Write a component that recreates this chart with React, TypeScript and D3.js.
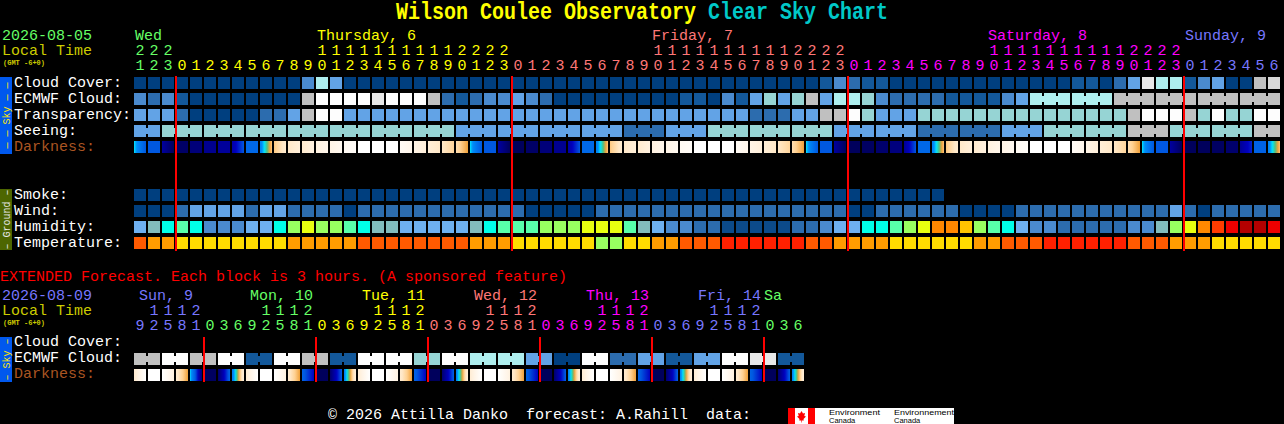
import * as d3 from 'd3';

const WIDTH = 1284;
const HEIGHT = 424;
const MONO = '"Liberation Mono", monospace';

// Hour labels along the top, one per block
const hours = [
  21, 22, 23,
  0, 1, 2, 3, 4, 5, 6, 7, 8, 9, 10, 11, 12, 13, 14, 15, 16, 17, 18, 19, 20, 21, 22, 23,
  0, 1, 2, 3, 4, 5, 6, 7, 8, 9, 10, 11, 12, 13, 14, 15, 16, 17, 18, 19, 20, 21, 22, 23,
  0, 1, 2, 3, 4, 5, 6, 7, 8, 9, 10, 11, 12, 13, 14, 15, 16, 17, 18, 19, 20, 21, 22, 23,
  0, 1, 2, 3, 4, 5, 6,
];
const extHours = [
  9, 12, 15, 18, 21,
  0, 3, 6, 9, 12, 15, 18, 21,
  0, 3, 6, 9, 12, 15, 18, 21,
  0, 3, 6, 9, 12, 15, 18, 21,
  0, 3, 6, 9, 12, 15, 18, 21,
  0, 3, 6, 9, 12, 15, 18, 21,
  0, 3, 6,
];

const days = ['Wed', 'Thursday, 6', 'Friday, 7', 'Saturday, 8', 'Sunday, 9'];
const dayTextX = [135, 317, 652, 988, 1185];
const extDays = ['Sun, 9', 'Mon, 10', 'Tue, 11', 'Wed, 12', 'Thu, 13', 'Fri, 14', 'Sa'];
const extDayTextX = [139, 250, 362, 474, 586, 698, 764];
const dayColors = ['#66ff66', '#ffff00', '#ff7777', '#ff00ff', '#7777ff'];
const extDayColors = ['#7777ff', '#66ff66', '#ffff00', '#ff7777', '#ff00ff', '#7777ff', '#66ff66'];

// Sky rows, in tenths of the cloud colour scale
const cloudCover = [
  0, 0, 0, 0, 0, 0, 0, 0, 0, 0, 0, 0, 3, 6, 4, 0, 0, 0, 0, 0, 0, 0, 0, 0, 0, 0, 0, 0, 0, 0, 0, 0, 0, 0, 0, 0, 0, 0, 0, 0,
  0, 0, 0, 0, 0, 0, 0, 0, 0, 1, 3, 2, 1, 1, 0, 0, 0, 0, 0, 0, 0, 0, 0, 0, 0, 0, 0, 1, 1, 0, 2, 4, 9, 6, 6, 1, 3, 4, 0, 0,
  7, 8,
];
const ecmwfCloud = [
  3, 2, 3, 1, 0, 0, 0, 0, 0, 0, 0, 0, 7, 10, 10, 10, 10, 9, 10, 10, 10, 7, 2, 1, 2, 3, 3, 4, 3, 2, 0, 0, 0, 0, 0, 0, 0, 0, 0, 1,
  1, 0, 3, 1, 4, 5, 4, 5, 7, 4, 6, 6, 5, 3, 2, 2, 2, 2, 1, 1, 1, 1, 3, 4, 6, 6, 6, 6, 6, 6, 7, 7, 7, 7, 7, 7, 7, 7, 7, 7,
  7, 7,
];
const transparency = [
  4, 4, 4, 2, 0, 0, 0, 0, 0, 2, 2, 4, 7, 10, 10, 4, 4, 4, 4, 4, 4, 4, 4, 4, 4, 4, 4, 4, 4, 4, 4, 4, 4, 4, 4, 4, 4, 4, 4, 4,
  4, 4, 4, 4, 2, 2, 2, 4, 4, 7, 7, 10, 5, 4, 4, 4, 5, 5, 5, 5, 5, 5, 5, 5, 5, 5, 5, 5, 5, 5, 5, 7, 10, 10, 10, 7, 5, 10, 5, 5,
  10, 10,
];
const seeing = [
  4, 4, 5, 5, 5, 5, 5, 5, 5, 5, 5, 5, 5, 5, 5, 5, 5, 5, 5, 5, 5, 5, 5, 4, 4, 4, 4, 4, 4, 4, 4, 4, 4, 4, 4, 2, 2, 2, 4, 4,
  4, 5, 5, 5, 5, 5, 5, 5, 5, 5, 4, 4, 4, 4, 4, 4, 2, 2, 2, 2, 2, 2, 4, 4, 4, 5, 5, 5, 5, 5, 5, 7, 7, 7, 5, 5, 5, 5, 5, 5,
  7, 7,
];
// Sky brightness at the left and right edge of every block
const darknessFrom = [
  5, 3, 1.4, 0.4, 0.7, 1.1, 1.3, 1.5, 3.5, 4.2, 6.4, 7, 7.2, 7.8, 8, 8.5, 9, 9, 9, 8.6, 8, 7.5, 7, 6.8,
  5, 3, 1.4, 0.2, 0.4, 0.7, 1.1, 1.4, 3.5, 4.2, 6.4, 7, 7.2, 7.8, 8, 8.5, 9, 9, 9, 8.6, 8, 7.5, 7, 6.8,
  5, 3, 1.4, 0.2, 0.3, 0.5, 0.8, 1.2, 3.5, 4.2, 6.4, 7, 7.2, 7.8, 8, 8.5, 9, 9, 9, 8.6, 8, 7.5, 7, 6.8,
  5, 3, 1.4, 0.2, 0.2, 0.3, 0.5, 1.2, 3.3, 4.2,
];
const darknessTo = [
  3, 3, 0.2, 0.4, 0.7, 1.1, 1.3, 3, 3.5, 6.4, 7.2, 7.6, 7.8, 8.2, 8.4, 8.7, 9, 9, 9, 8.2, 7.6, 7, 6.6, 6,
  3, 3, 0.2, 0.2, 0.4, 0.7, 1.1, 3, 3.5, 6.4, 7.2, 7.6, 7.8, 8.2, 8.4, 8.7, 9, 9, 9, 8.2, 7.6, 7, 6.6, 6,
  3, 3, 0.2, 0.2, 0.3, 0.5, 0.8, 3, 3.5, 6.4, 7.2, 7.6, 7.8, 8.2, 8.4, 8.7, 9, 9, 9, 8.2, 7.6, 7, 6.6, 6,
  3, 3, 0.2, 0.2, 0.2, 0.3, 0.5, 2.4, 3.3, 6.4,
];

// Ground rows
const smoke = [
  0, 0, 0, 0, 0, 0, 0, 0, 0, 0, 0, 0, 0, 0, 0, 0, 0, 0, 0, 0, 0, 0, 0, 0, 0, 0, 0, 0, 0, 0, 0, 0, 0, 0, 0, 0, 0, 0, 0, 0,
  0, 0, 0, 0, 0, 0, 0, 0, 0, 0, 0, 0, 0, 0, 0, 0, 0, 0,
];
const wind = [
  0, 0, 0, 2, 4, 4, 4, 4, 2, 4, 4, 2, 2, 2, 2, 0, 2, 2, 2, 2, 2, 2, 2, 2, 2, 2, 2, 2, 0, 0, 0, 0, 0, 2, 2, 2, 2, 2, 2, 2,
  2, 2, 2, 2, 2, 2, 2, 2, 2, 2, 2, 0, 0, 2, 2, 2, 2, 2, 2, 0, 0, 0, 0, 2, 2, 2, 2, 2, 2, 2, 2, 2, 2, 2, 4, 2, 0, 2, 2, 2,
  2, 2,
];
const humidity = [
  3, 4, 5, 6, 5, 2, 2, 2, 3, 3, 5, 7, 8, 7, 7, 6, 5, 4, 4, 3, 3, 3, 3, 3, 4, 5, 6, 6, 6, 7, 7, 7, 8, 8, 8, 6, 4, 3, 2, 2,
  1, 1, 0, 0, 0, 0, 0, 1, 1, 2, 3, 3, 5, 5, 6, 7, 8, 10, 10, 9, 7, 6, 5, 3, 2, 2, 1, 1, 1, 1, 1, 2, 2, 4, 7, 8, 10, 11, 12, 13,
  13, 12,
];
const temperature = [
  1, 2, 2, 3, 3, 3, 3, 3, 3, 3, 3, 2, 2, 2, 2, 2, 1, 1, 1, 1, 1, 1, 1, 1, 2, 2, 2, 3, 3, 3, 3, 3, 3, 4, 4, 3, 3, 2, 2, 1,
  1, 1, 0, 0, 0, 0, 0, 0, 1, 1, 2, 2, 2, 2, 3, 3, 3, 3, 3, 3, 2, 2, 1, 1, 1, 0, 0, 0, 0, 0, 0, 1, 1, 1, 2, 2, 2, 3, 3, 3,
  3, 3,
];

// Extended forecast, one block is 3 hours
const extCloud = [
  7, 7, 10, 10, 7, 7, 10, 10, 1, 1, 10, 10, 7, 7, 1, 1, 10, 10, 10, 10, 5, 5, 10, 10, 6, 6, 6, 6, 4, 4, 0, 0, 10, 10, 2, 2, 4, 4, 1, 1,
  4, 4, 10, 10, 9, 9, 1, 1,
];
const extDarknessFrom = [
  7.2, 9, 9, 7.2, 5, 0.3, 0.4, 4,
  7.4, 9, 9, 7.2, 3.3, 0.2, 0.5, 4.2,
  7.4, 9, 9, 7.2, 3.3, 0.2, 0.5, 4.2,
  7.4, 9, 9, 7.2, 3.3, 0.2, 0.5, 4.2,
  7.4, 9, 9, 7.2, 3.3, 0.2, 0.5, 4.2,
  7.4, 9, 9, 7.2, 3.3, 0.2, 0.5, 4.2,
];
const extDarknessTo = [
  9, 9, 7.8, 6, 0.6, 0.3, 3.4, 7.6,
  9, 9, 7.8, 6, 2, 0.2, 3.2, 7.6,
  9, 9, 7.8, 6, 2, 0.2, 3.2, 7.6,
  9, 9, 7.8, 6, 2, 0.2, 3.2, 7.6,
  9, 9, 7.8, 6, 2, 0.2, 3.2, 7.6,
  9, 9, 7.8, 6, 2, 0.2, 3.2, 7.6,
];

const cloudColor = d3
  .scaleOrdinal<number, string>()
  .domain(d3.range(11))
  .range(['#003f7f', '#13589a', '#2c6cae', '#4a8ace', '#62a3e6', '#96d4d4', '#aeeeee', '#c0c0c0', '#d8d8d8', '#e8e8e8', '#fdfdfd']);

const humidityColor = d3
  .scaleOrdinal<number, string>()
  .domain(d3.range(14))
  .range(['#0c4a8a', '#2c6cae', '#4a8ace', '#6eb0f0', '#82bcbc', '#00ffe8', '#58ffaa', '#98ff60', '#e8ff10', '#ffc400', '#ff8800', '#ff3c00', '#ee0000', '#b40000']);

const temperatureColor = d3
  .scaleOrdinal<number, string>()
  .domain(d3.range(5))
  .range(['#ff2000', '#ff5a00', '#ff9c00', '#ffdc00', '#98ff60']);

const darknessColor = d3
  .scaleLinear<string>()
  .domain([0, 1, 2, 3, 4, 4.6, 5, 5.5, 6, 6.5, 7, 8, 9])
  .range(['#000050', '#00008a', '#0000c0', '#0058e0', '#0078f0', '#0090f8', '#00e8ff', '#50c080', '#f0a038', '#ffd090', '#ffe8c8', '#fff4e6', '#ffffff']);

const PITCH = 14;
const CELL = 12;
const x = d3.scaleLinear().domain([0, 82]).range([134, 134 + PITCH * 82]);
const rowY = d3.scaleLinear().domain([0, 1]).range([77, 93]);
const groundY = d3.scaleLinear().domain([0, 1]).range([189, 205]);
const extY = d3.scaleLinear().domain([0, 1]).range([337, 353]);

const hourColor = (h: number[], colors: string[], i: number) => {
  // a new colour starts after each midnight
  const day = h.slice(1, i + 1).filter((v) => v === 0).length;
  return colors[day];
};

const Row = ({ y, values, color, joinFrom = Infinity, joinOffset = 0, joinSize = 1 }: any) => (
  <g>
    {values.map((v: number, i: number) => {
      const joined =
        i >= joinFrom && i < values.length - 1 && (i + joinOffset) % joinSize !== joinSize - 1;
      return (
        <g key={i}>
          <rect x={x(i)} y={y} width={CELL} height={CELL} fill={color(v)} />
          {joined && <rect x={x(i) + CELL} y={y + 3} width={PITCH - CELL} height={6} fill={color(v)} />}
        </g>
      );
    })}
  </g>
);

const DarknessRow = ({ id, y, from, to }: { id: string; y: number; from: number[]; to: number[] }) => (
  <g>
    <defs>
      {from.map((v, i) => (
        <linearGradient key={i} id={`${id}-${i}`}>
          {d3.range(0, 1.01, 1 / 12).map((t) => (
            <stop key={t} offset={t} stopColor={darknessColor(v + (to[i] - v) * t)} />
          ))}
        </linearGradient>
      ))}
    </defs>
    {from.map((_, i) => (
      <rect key={i} x={x(i)} y={y} width={CELL} height={CELL} fill={`url(#${id}-${i})`} />
    ))}
  </g>
);

const Label = ({ x: tx, y, fill = '#ffffff', size = 15, ...rest }: any) => (
  <text x={tx} y={y} fill={fill} fontSize={size} fontFamily={MONO} style={{ whiteSpace: 'pre' }} {...rest} />
);

const HourLabels = ({ data, colors, tensY, onesY }: any) => (
  <g textAnchor="middle">
    {data.map((h: number, i: number) => {
      const c = hourColor(data, colors, i);
      const cx = x(i) + CELL / 2;
      return (
        <g key={i}>
          {h >= 10 && <Label x={cx} y={tensY} fill={c}>{Math.floor(h / 10)}</Label>}
          <Label x={cx} y={onesY} fill={c}>{h % 10}</Label>
        </g>
      );
    })}
  </g>
);

const SideBand = ({ y, height, fill, color, text }: any) => (
  <g>
    <rect x={0} y={y} width={12} height={height} fill={fill} />
    <Label
      size={10}
      fill={color}
      textAnchor="middle"
      transform={`translate(9.5,${y + height / 2}) rotate(-90)`}
      x={0}
      y={0}
    >
      {text}
    </Label>
  </g>
);

export default function App() {
  const skyLabels = ['Cloud Cover:', 'ECMWF Cloud:', 'Transparency:', 'Seeing:'];
  const groundLabels = ['Smoke:', 'Wind:', 'Humidity:', 'Temperature:'];
  const midnights = hours.flatMap((h, i) => (h === 0 ? [i] : []));
  const extMidnights = extHours.flatMap((h, i) => (h === 0 ? [i] : []));

  return (
    <>
      <style>{'body{margin:0;background:#000}'}</style>
      <svg width={WIDTH} height={HEIGHT} style={{ display: 'block', background: '#000' }}>
        {/* title */}
        <text
          transform="translate(396,18.5) scale(1,1.15)"
          fontSize={20}
          fontWeight="bold"
          fontFamily={MONO}
          style={{ whiteSpace: 'pre' }}
        >
          <tspan fill="#ffff00">Wilson Coulee Observatory </tspan>
          <tspan fill="#00c8c8">Clear Sky Chart</tspan>
        </text>

        {/* header */}
        <Label x={2} y={40} fill="#66ff66">2026-08-05</Label>
        <Label x={2} y={55} fill="#cccc00">Local Time</Label>
        <Label x={3} y={65} fill="#cccc00" size={7} fontWeight="bold">(GMT -6+0)</Label>
        {days.map((d, i) => (
          <Label key={d} x={dayTextX[i]} y={40} fill={dayColors[i]}>{d}</Label>
        ))}
        <HourLabels data={hours} colors={dayColors} tensY={55} onesY={70} />

        {/* sky block */}
        <SideBand y={77} height={77} fill="#0058ee" color="#ffe800" text="— — Sky — —" />
        {skyLabels.map((l, i) => (
          <Label key={l} x={14} y={rowY(i) + 10}>{l}</Label>
        ))}
        <Label x={14} y={rowY(4) + 10} fill="#aa5522">Darkness:</Label>
        <Row y={rowY(0)} values={cloudCover} color={cloudColor} />
        <Row y={rowY(1)} values={ecmwfCloud} color={cloudColor} joinFrom={64} joinOffset={2} joinSize={3} />
        <Row y={rowY(2)} values={transparency} color={cloudColor} />
        <Row y={rowY(3)} values={seeing} color={cloudColor} joinFrom={0} joinOffset={1} joinSize={3} />
        <DarknessRow id="dark" y={rowY(4)} from={darknessFrom} to={darknessTo} />

        {/* ground block */}
        <SideBand y={189} height={61} fill="#4d6600" color="#e8e8e8" text="– Ground –" />
        {groundLabels.map((l, i) => (
          <Label key={l} x={14} y={groundY(i) + 10}>{l}</Label>
        ))}
        <Row y={groundY(0)} values={smoke} color={cloudColor} />
        <Row y={groundY(1)} values={wind} color={cloudColor} />
        <Row y={groundY(2)} values={humidity} color={humidityColor} />
        <Row y={groundY(3)} values={temperature} color={temperatureColor} />

        {midnights.map((i) => (
          <rect key={i} x={x(i) - 1} y={76} width={2} height={175} fill="#ff0000" />
        ))}

        {/* extended forecast */}
        <Label x={0} y={281} fill="#ff0000">EXTENDED Forecast. Each block is 3 hours. (A sponsored feature)</Label>
        <Label x={2} y={300} fill="#7777ff">2026-08-09</Label>
        <Label x={2} y={315} fill="#cccc00">Local Time</Label>
        <Label x={3} y={325} fill="#cccc00" size={7} fontWeight="bold">(GMT -6+0)</Label>
        {extDays.map((d, i) => (
          <Label key={d} x={extDayTextX[i]} y={300} fill={extDayColors[i]}>{d}</Label>
        ))}
        <HourLabels data={extHours} colors={extDayColors} tensY={315} onesY={330} />

        <SideBand y={337} height={45} fill="#0058ee" color="#ffe800" text="– Sky –" />
        <Label x={14} y={extY(0) + 9}>Cloud Cover:</Label>
        <Label x={14} y={extY(1) + 9}>ECMWF Cloud:</Label>
        <Label x={14} y={extY(2) + 9} fill="#aa5522">Darkness:</Label>
        <Row y={extY(1)} values={extCloud} color={cloudColor} joinFrom={0} joinSize={2} />
        <DarknessRow id="ext-dark" y={extY(2)} from={extDarknessFrom} to={extDarknessTo} />
        {extMidnights.map((i) => (
          <rect key={i} x={x(i) - 1} y={337} width={2} height={45} fill="#ff0000" />
        ))}

        {/* footer */}
        <Label x={328} y={419}>© 2026 Attilla Danko  forecast: A.Rahill  data:</Label>
        <rect x={788} y={408} width={166} height={16} fill="#ffffff" />
        <rect x={788} y={408} width={7} height={16} fill="#ff0000" />
        <rect x={808} y={408} width={7} height={16} fill="#ff0000" />
        <path d="M801.5 411l1.5 2.5 2-.5-.7 3 1.7.5-2.5 2.5.3 1.5h-2v2h-.6v-2h-2l.3-1.5-2.5-2.5 1.7-.5-.7-3 2 .5z" fill="#ff0000" />
        <g fontFamily='"Liberation Sans", sans-serif' fontSize={7.5} fill="#000000">
          <text x={829} y={415} textLength={51} lengthAdjust="spacingAndGlyphs">Environment</text>
          <text x={829} y={423}>Canada</text>
          <text x={894} y={415} textLength={60} lengthAdjust="spacingAndGlyphs">Environnement</text>
          <text x={894} y={423}>Canada</text>
        </g>
      </svg>
    </>
  );
}
